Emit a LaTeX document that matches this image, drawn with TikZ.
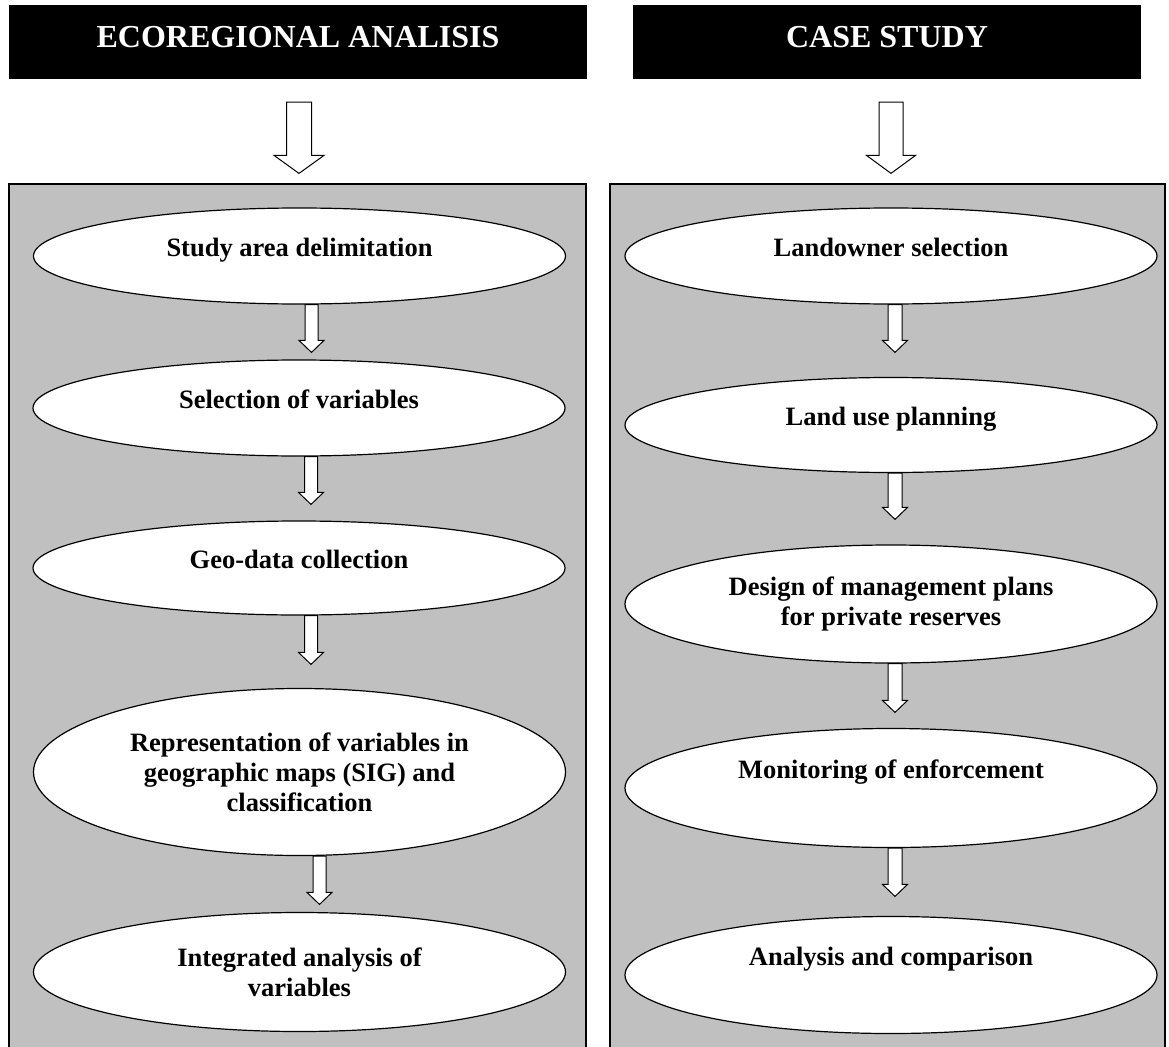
\documentclass[tikz,border=0pt]{standalone}
\usepackage{fontspec}
\setmainfont{Liberation Serif}
\usetikzlibrary{shapes.geometric,calc}
\definecolor{panelgray}{RGB}{192,192,192}

\tikzset{
  header/.style={fill=black, text=white, inner sep=0pt, minimum height=74pt,
    font=\bfseries\fontsize{32}{38}\selectfont, text height=21pt, text depth=9pt},
  panel/.style={draw, fill=panelgray, line width=1.2pt, inner sep=0pt},
  stage/.style={ellipse, draw, fill=white, line width=1.2pt, inner sep=0pt,
    minimum width=532pt, align=center, font=\bfseries\fontsize{26.5}{30}\selectfont},
  oneline/.style={text height=18pt, text depth=17pt},
  lowline/.style={text height=18pt, text depth=37pt},
  hollow/.style={draw, fill=white, line width=1pt, line join=miter},
}

% hollow block arrow: from, to, x shift, tail gap, tip gap, half shaft, half head, head length
\newcommand{\blockarrow}[8]{%
  \draw[hollow] let \p1=(#1), \p2=(#2) in
    (\x1+#3-#6,\y1-#4) -- (\x1+#3+#6,\y1-#4) -- (\x1+#3+#6,\y2+#5+#8)
    -- (\x1+#3+#7,\y2+#5+#8) -- (\x1+#3,\y2+#5) -- (\x1+#3-#7,\y2+#5+#8)
    -- (\x1+#3-#6,\y2+#5+#8) -- cycle;}

\begin{document}
\begin{tikzpicture}[x=1pt,y=-1pt]
  \fill[white] (0,0) rectangle (1169,1046);
  \useasboundingbox (0,0) rectangle (1169,1046);

  % headers and panels
  \node[header, minimum width=578pt] (hl) at (298,42) {ECOREGIONAL ANALISIS};
  \node[header, minimum width=508pt] (hr) at (887,42) {CASE STUDY};
  \node[panel, minimum width=577pt, minimum height=876pt] (pl) at (297.5,622) {};
  \node[panel, minimum width=555pt, minimum height=876pt] (pr) at (887.5,622) {};

  \blockarrow{hl.south}{pl.north}{1}{23}{10}{12.5}{25}{18}
  \blockarrow{hr.south}{pr.north}{4}{23}{10}{12}{24.5}{18}

  % ecoregional analysis
  \node[stage, oneline, minimum height=96pt] (l1) at (299.5,256) {Study area delimitation};
  \node[stage, oneline, minimum height=96pt] (l2) at (299,408) {Selection of variables};
  \node[stage, oneline, minimum height=94pt] (l3) at (299,568) {Geo-data collection};
  \node[stage, minimum height=167pt] (l4) at (299.5,772)
    {Representation of variables in\\ geographic maps (SIG) and\\ classification};
  \node[stage, minimum height=119pt] (l5) at (299.5,972) {Integrated analysis of\\ variables};

  \blockarrow{l1.south}{l2.north}{12}{0}{7}{6.5}{12.5}{12}
  \blockarrow{l2.south}{l3.north}{12}{0}{16}{6.5}{12.5}{12}
  \blockarrow{l3.south}{l4.north}{12}{0}{23.5}{6.5}{12.5}{12}
  \blockarrow{l4.south}{l5.north}{20}{0}{7.5}{6.5}{12.5}{12}

  % case study
  \node[stage, oneline, minimum height=96pt] (r1) at (891,256) {Landowner selection};
  \node[stage, oneline, minimum height=95pt] (r2) at (891,425) {Land use planning};
  \node[stage, minimum height=118pt] (r3) at (891,604) {Design of management plans\\ for private reserves};
  \node[stage, lowline, minimum height=119pt] (r4) at (891,788) {Monitoring of enforcement};
  \node[stage, lowline, minimum height=117pt] (r5) at (891,975) {Analysis and comparison};

  \blockarrow{r1.south}{r2.north}{4}{0}{24.5}{7}{12.5}{12}
  \blockarrow{r2.south}{r3.north}{4}{0}{25}{7}{12.5}{12}
  \blockarrow{r3.south}{r4.north}{4}{0}{15.5}{7}{12.5}{12}
  \blockarrow{r4.south}{r5.north}{4}{0}{19.5}{7}{12.5}{12}
\end{tikzpicture}
\end{document}
